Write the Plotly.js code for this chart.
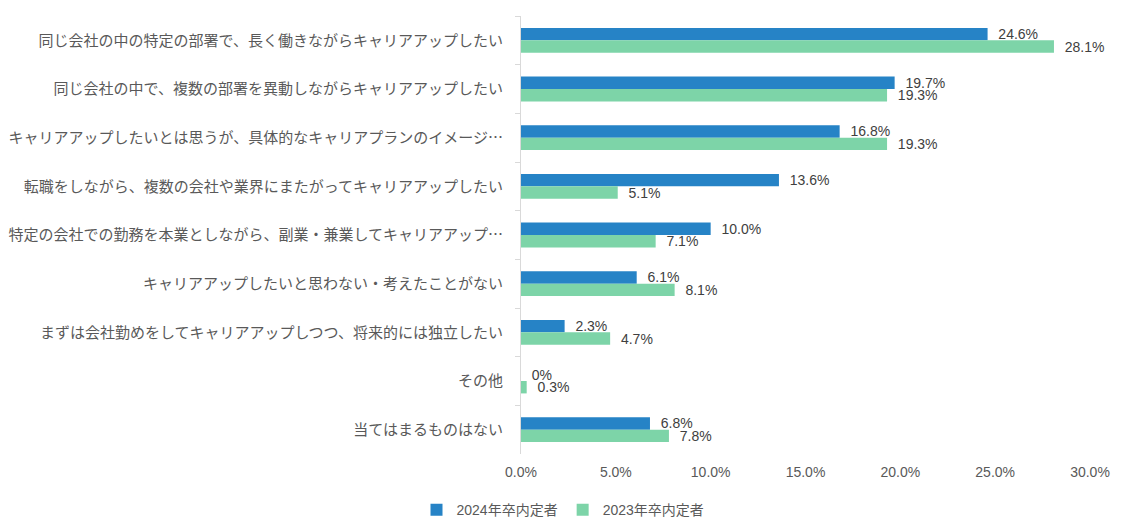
<!DOCTYPE html>
<html>
<head>
<meta charset="utf-8">
<script src="https://cdn.plot.ly/plotly-3.0.1.min.js"></script>
<style>html,body{margin:0;padding:0;background:#fff;}#chart{width:1126px;height:517px;}</style>
</head>
<body>
<div id="chart"></div>
<script>
const categories = [
  "同じ会社の中の特定の部署で、長く働きながらキャリアアップしたい",
  "同じ会社の中で、複数の部署を異動しながらキャリアアップしたい",
  "キャリアアップしたいとは思うが、具体的なキャリアプランのイメージ…",
  "転職をしながら、複数の会社や業界にまたがってキャリアアップしたい",
  "特定の会社での勤務を本業としながら、副業・兼業してキャリアアップ…",
  "キャリアアップしたいと思わない・考えたことがない",
  "まずは会社勤めをしてキャリアアップしつつ、将来的には独立したい",
  "その他",
  "当てはまるものはない"
];
const series2024Name = "2024年卒内定者";
const series2023Name = "2023年卒内定者";
const values2024 = [24.6, 19.7, 16.8, 13.6, 10.0, 6.1, 2.3, 0, 6.8];
const values2023 = [28.1, 19.3, 19.3, 5.1, 7.1, 8.1, 4.7, 0.3, 7.8];
const xTickVals = [0, 5, 10, 15, 20, 25, 30];
const xTickText = ["0.0%", "5.0%", "10.0%", "15.0%", "20.0%", "25.0%", "30.0%"];

const fmt = v => "\u00A0\u00A0" + (v === 0 ? "0%" : v.toFixed(1) + "%");
const labelFont = {family: "Liberation Sans, Arial, sans-serif", size: 14, color: "#404040"};

const traces = [
  {
    type: "bar", orientation: "h", name: series2024Name,
    y: categories, x: values2024,
    text: values2024.map(fmt), textposition: "outside", cliponaxis: false,
    constraintext: "none",
    textfont: labelFont,
    marker: {color: "#2683C6"}, hoverinfo: "x+y"
  },
  {
    type: "bar", orientation: "h", name: series2023Name,
    y: categories, x: values2023,
    text: values2023.map(fmt), textposition: "outside", cliponaxis: false,
    constraintext: "none",
    textfont: labelFont,
    marker: {color: "#7DD4A8"}, hoverinfo: "x+y"
  }
];

const layout = {
  width: 1126, height: 517,
  margin: {l: 521, r: 36, t: 16, b: 63},
  paper_bgcolor: "#fff", plot_bgcolor: "#fff",
  barmode: "group", bargap: 0.49, bargroupgap: 0,
  showlegend: true,
  legend: {
    orientation: "h", xref: "container", yref: "container",
    x: 0.5, xanchor: "center", y: 0.044, yanchor: "top",
    font: {family: "Liberation Sans, Noto Sans CJK JP, sans-serif", size: 14, color: "#595959"},
    traceorder: "normal", itemwidth: 30
  },
  xaxis: {
    range: [0, 30], tickvals: xTickVals, ticktext: xTickText,
    showgrid: false, zeroline: false, showline: false, ticks: "",
    tickfont: {family: "Liberation Sans, Arial, sans-serif", size: 14, color: "#595959"},
    ticklabelstandoff: 8
  },
  yaxis: {
    type: "category", autorange: "reversed",
    showline: true, linecolor: "#D9D9D9", linewidth: 1,
    ticks: "outside", tickson: "boundaries", ticklen: 5, tickcolor: "#D9D9D9",
    showgrid: false, zeroline: false,
    tickfont: {family: "Noto Sans CJK JP, sans-serif", size: 15, color: "#595959"},
    ticklabelstandoff: 14
  },
  font: {family: "Noto Sans CJK JP, sans-serif"}
};

Plotly.newPlot("chart", traces, layout, {displayModeBar: false, staticPlot: true});
</script>
</body>
</html>
